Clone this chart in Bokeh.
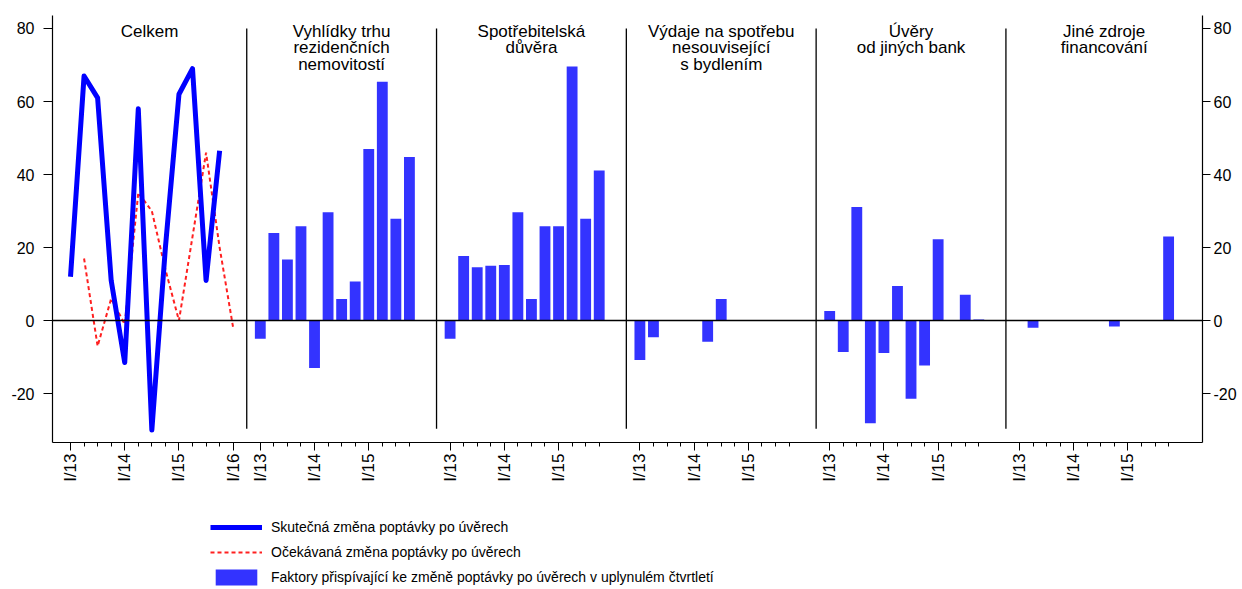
import math
from bokeh.plotting import figure
from bokeh.layouts import column
from bokeh.models import Range1d, LinearAxis, FixedTicker, Span, Legend, LegendItem
from bokeh.core.properties import value
from bokeh.embed import file_html
from bokeh.resources import INLINE

FONT = "Liberation Sans"

# ---------------- data ----------------
panel_titles = [
    "Celkem",
    "Vyhlídky trhu\nrezidenčních\nnemovitostí",
    "Spotřebitelská\ndůvěra",
    "Výdaje na spotřebu\nnesouvisející\ns bydlením",
    "Úvěry\nod jiných bank",
    "Jiné zdroje\nfinancování",
]
quarters_total = ["I/13", "II/13", "III/13", "IV/13", "I/14", "II/14", "III/14", "IV/14",
                  "I/15", "II/15", "III/15", "IV/15", "I/16"]
quarters_factors = quarters_total[:12]

actual_change = [12, 67, 61, 11, -11.5, 58, -30, 20, 62, 69, 11, 46.5]           # I/13..IV/15
expected_change = [17, -7, 6, -1, 35, 30, 14, 0, 23, 46, 20, -2]                  # II/13..I/16

housing_outlook = [-5, 24, 16.7, 25.8, -13, 29.7, 5.9, 10.7, 47, 65.4, 27.9, 44.8]
consumer_conf = [-5, 17.7, 14.6, 15, 15.2, 29.7, 5.9, 25.8, 25.8, 69.6, 27.9, 41.1]
non_housing_spend = [-10.8, -4.6, 0, 0, 0, -5.8, 5.9, 0, 0, 0, 0, 0]
other_banks = [2.6, -8.6, 31.1, -28.1, -8.9, 9.5, -21.4, -12.3, 22.3, 0, 7.1, 0.3]
other_sources = [0, -2.0, 0, 0, 0, 0, 0, -1.6, 0, 0, 0, 23.0]
factor_series = [housing_outlook, consumer_conf, non_housing_spend, other_banks, other_sources]

legend_labels = [
    "Skutečná změna poptávky po úvěrech",
    "Očekávaná změna poptávky po úvěrech",
    "Faktory přispívající ke změně poptávky po úvěrech v uplynulém čtvrtletí",
]
y_ticks = [-20, 0, 20, 40, 60, 80]

# ---------------- styles ----------------
ACT = dict(line_color="#0000ff", line_width=5, line_join="round")
EXP = dict(line_color="#ff2020", line_width=2, line_dash="4 3")
BAR = dict(fill_color="#3333ff", line_color=None)

PANEL_STEP = 14
X_MIN, X_MAX = -1.328, 83.5
Y_MIN, Y_MAX = -33.4, 83.56

p = figure(frame_width=1150, frame_height=427,
           x_range=Range1d(X_MIN, X_MAX), y_range=Range1d(Y_MIN, Y_MAX),
           output_backend="svg", toolbar_location=None,
           x_axis_location=None, y_axis_location=None,
           min_border_left=52, min_border_right=36, min_border_top=15, min_border_bottom=50)
p.outline_line_color = None
p.background_fill_color = "white"
p.border_fill_color = "white"
p.xgrid.visible = False
p.ygrid.visible = False

# total panel: lines
x_actual = list(range(len(actual_change)))
x_expected = list(range(1, 1 + len(expected_change)))
p.line(x_expected, expected_change, **EXP)
p.line(x_actual, actual_change, **ACT)

# factor panels: bars
bx, by = [], []
for k, series in enumerate(factor_series, start=1):
    for i, v in enumerate(series):
        bx.append(PANEL_STEP * k + i)
        by.append(v)
p.vbar(x=bx, top=by, bottom=0, width=0.8, **BAR)

# zero line
p.add_layout(Span(location=0, dimension="width", line_color="black", line_width=1.5))

# separators
seps = [PANEL_STEP * k - 1 for k in range(1, 6)]
p.segment(x0=seps, x1=seps, y0=[-29.6] * len(seps), y1=[80] * len(seps), line_color="black", line_width=1.3)

# titles
edges = [X_MIN] + seps + [X_MAX]
centers = [(edges[i] + edges[i + 1]) / 2 for i in range(6)]
p.text(x=centers, y=[81.9] * 6, text=panel_titles, text_align="center", text_baseline="top",
       text_font=value(FONT), text_font_size="17px", text_color="black", text_line_height=0.87)

# axes
def style_axis(ax):
    ax.axis_line_color = "black"
    ax.axis_line_width = 1.2
    ax.major_tick_line_color = "black"
    ax.minor_tick_line_color = "black"
    ax.major_tick_in = 0
    ax.minor_tick_in = 0
    ax.major_label_text_font = FONT
    ax.major_label_text_font_size = "16px"
    ax.major_label_text_color = "black"

y_overrides = {t: str(t) for t in y_ticks}

left = LinearAxis(ticker=FixedTicker(ticks=y_ticks, minor_ticks=[]))
style_axis(left)
left.major_tick_out = 9
left.minor_tick_out = 0
left.major_label_standoff = 9
left.major_label_overrides = y_overrides
p.add_layout(left, "left")

right = LinearAxis(ticker=FixedTicker(ticks=y_ticks, minor_ticks=[]))
style_axis(right)
right.major_tick_out = 8
right.minor_tick_out = 0
right.major_label_standoff = 3
right.major_label_overrides = y_overrides
p.add_layout(right, "right")

majors, minors, overrides = [], [], {}
for i, qq in enumerate(quarters_total):
    if qq.startswith("I/"):
        majors.append(i); overrides[i] = qq
    else:
        minors.append(i)
for k in range(1, 6):
    for i, qq in enumerate(quarters_factors):
        x = PANEL_STEP * k + i
        if qq.startswith("I/"):
            majors.append(x); overrides[x] = qq
        else:
            minors.append(x)
bottom = LinearAxis(ticker=FixedTicker(ticks=majors, minor_ticks=minors))
style_axis(bottom)
bottom.major_tick_out = 8
bottom.minor_tick_out = 4
bottom.major_label_standoff = 3
bottom.major_label_orientation = math.pi / 2
bottom.major_label_overrides = overrides
bottom.major_label_text_font_size = "17px"
p.add_layout(bottom, "below")

# legend figure (below the chart); its ranges lie far from the data so only the legend shows
q = figure(width=1238, height=97, x_range=Range1d(1000, 1001), y_range=Range1d(1000, 1001),
           output_backend="svg", toolbar_location=None,
           x_axis_location=None, y_axis_location=None,
           min_border_left=0, min_border_right=0, min_border_top=0, min_border_bottom=0)
q.outline_line_color = None
q.xgrid.visible = False
q.ygrid.visible = False
la = q.line(x_actual, actual_change, **ACT)
le = q.line(x_expected, expected_change, **EXP)
lb = q.vbar(x=bx, top=by, bottom=0, width=0.8, **BAR)
legend = Legend(items=[LegendItem(label=legend_labels[0], renderers=[la]),
                       LegendItem(label=legend_labels[1], renderers=[le]),
                       LegendItem(label=legend_labels[2], renderers=[lb])],
                location=(158, 2), orientation="vertical",
                glyph_width=52, glyph_height=20, label_height=20, label_standoff=9,
                spacing=5, padding=0, margin=0, border_line_color=None,
                background_fill_alpha=0,
                label_text_font=FONT, label_text_font_size="14px", label_text_color="black")
q.add_layout(legend, "center")

layout = column(p, q, spacing=0)
open("out.html", "w").write(file_html(layout, INLINE))
